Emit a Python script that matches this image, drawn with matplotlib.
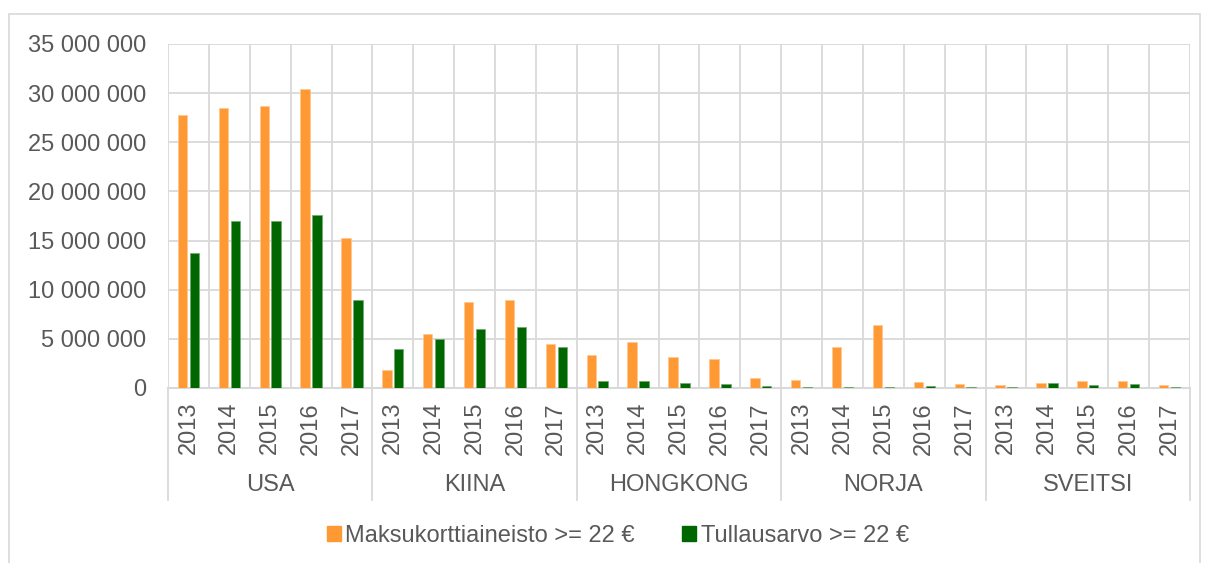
import numpy as np
import matplotlib
matplotlib.use("Agg")
import matplotlib.pyplot as plt
from matplotlib.patches import Patch, Rectangle
import matplotlib.transforms as mtransforms

plt.rcParams['font.family'] = ['Liberation Sans', 'DejaVu Sans']

countries = ["USA", "KIINA", "HONGKONG", "NORJA", "SVEITSI"]
years = ["2013", "2014", "2015", "2016", "2017"]

# arvot euroina, maittain vuodet 2013-2017
maksukortti = [27.8e6, 28.5e6, 28.7e6, 30.4e6, 15.3e6,
               1.8e6, 5.5e6, 8.7e6, 9.0e6, 4.5e6,
               3.4e6, 4.65e6, 3.15e6, 2.9e6, 1.0e6,
               0.82e6, 4.15e6, 6.4e6, 0.6e6, 0.4e6,
               0.35e6, 0.5e6, 0.75e6, 0.7e6, 0.3e6]
tullausarvo = [13.7e6, 17.0e6, 17.0e6, 17.6e6, 9.0e6,
               4.0e6, 5.0e6, 6.0e6, 6.2e6, 4.2e6,
               0.7e6, 0.68e6, 0.48e6, 0.43e6, 0.17e6,
               0.15e6, 0.15e6, 0.15e6, 0.2e6, 0.1e6,
               0.15e6, 0.5e6, 0.27e6, 0.4e6, 0.15e6]

ORANGE = "#FF9933"
GREEN = "#006600"
GRID = "#D9D9D9"
TXT = "#595959"

W, H = 1208, 563
fig = plt.figure(figsize=(W / 100, H / 100), dpi=100)

# ulkokehys
fig.patches.append(Rectangle((9 / W, -0.05), (1200 - 9) / W, 1.05 - 14 / H,
                             transform=fig.transFigure, fill=False,
                             edgecolor=GRID, linewidth=1.2))

ax = fig.add_axes([168 / W, (H - 388) / H, (1190 - 168) / W, (388 - 44) / H])

n = len(maksukortti)
x = np.arange(n)
bw = 0.23
ax.bar(x - 0.145, maksukortti, width=bw, color=ORANGE, edgecolor="#FFC890",
       linewidth=0.5, zorder=3)
ax.bar(x + 0.145, tullausarvo, width=bw, color=GREEN, edgecolor="#70A870",
       linewidth=0.5, zorder=3)

ax.set_xlim(-0.5, n - 0.5)
ax.set_ylim(0, 35e6)
yt = np.arange(0, 35e6 + 1, 5e6)
ax.set_yticks(yt)
ax.set_yticklabels([f"{int(v):,}".replace(",", " ") for v in yt])
ax.set_xticks(x)
ax.set_xticklabels(years * len(countries), rotation=90)
ax.set_xticks(np.arange(-0.5, n, 1.0), minor=True)
ax.tick_params(axis="both", which="both", length=0, colors=TXT, labelsize=17)
ax.tick_params(axis="y", pad=16)
ax.tick_params(axis="x", pad=10)

ax.grid(axis="y", color=GRID, linewidth=1.3, zorder=0)
ax.grid(axis="x", which="minor", color=GRID, linewidth=1.3, zorder=0)
for s in ["top", "right", "left"]:
    ax.spines[s].set_visible(False)
ax.spines["bottom"].set_color(GRID)
ax.spines["bottom"].set_linewidth(1.5)

# maaryhmien erottimet ja nimet
trans = mtransforms.blended_transform_factory(ax.transData, ax.transAxes)
ylow = -(500 - 388) / (388 - 44)
for i in range(len(countries) + 1):
    b = i * 5 - 0.5
    ax.plot([b, b], [0, ylow], color=GRID, linewidth=1.3, transform=trans,
            clip_on=False, zorder=1)
for i, c in enumerate(countries):
    ax.text(i * 5 + 2, -(485 - 388) / (388 - 44), c, transform=trans,
            ha="center", va="center", color=TXT, fontsize=17)

handles = [Patch(facecolor=ORANGE, edgecolor=ORANGE),
           Patch(facecolor=GREEN, edgecolor=GREEN)]
fig.legend(handles, ["Maksukorttiaineisto >= 22 €", "Tullausarvo >= 22 €"],
           loc="center", bbox_to_anchor=(618 / W, (H - 536) / H), ncol=2,
           frameon=False, fontsize=17, labelcolor=TXT, handlelength=0.6,
           handleheight=0.6, handletextpad=0.2, columnspacing=2.0)

fig.savefig("out.png", dpi=100)
